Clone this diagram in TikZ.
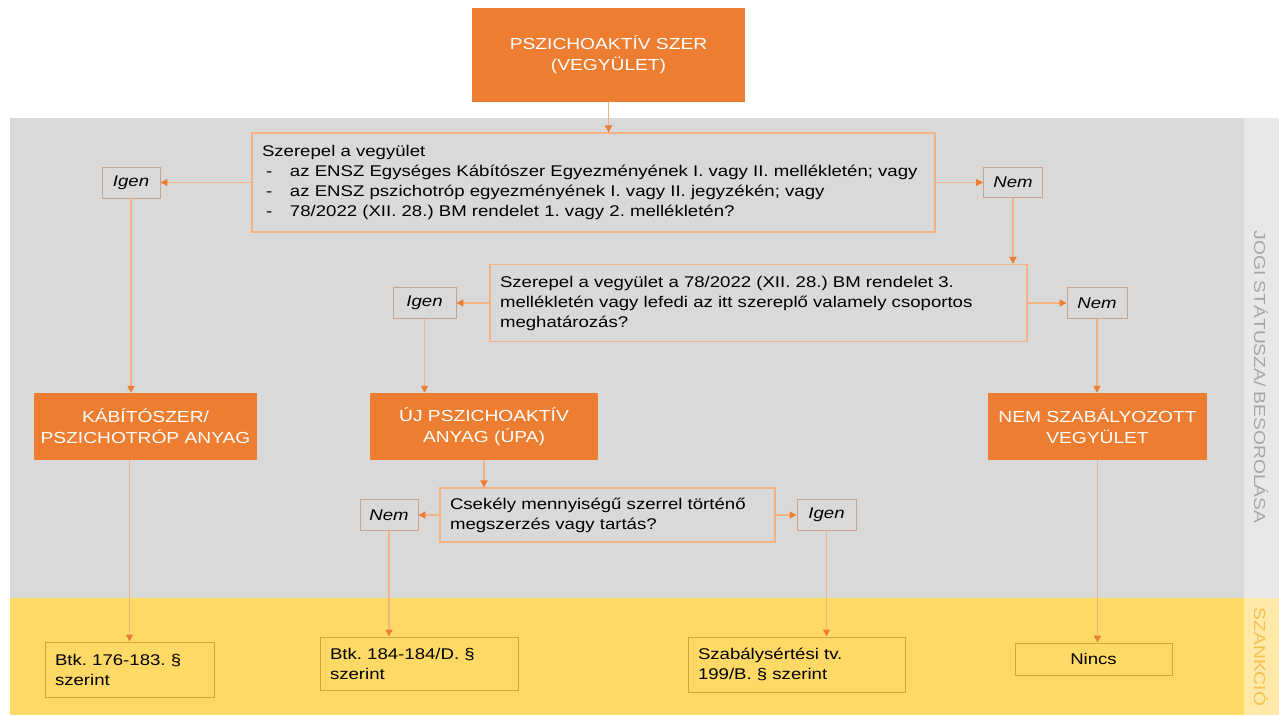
\documentclass[tikz,border=0pt]{standalone}
\usepackage{fontspec}
\setmainfont{Liberation Sans}[FakeStretch=1.2]
\usetikzlibrary{arrows.meta}

\definecolor{boxorange}{HTML}{ED7D31}
\definecolor{lineorange}{HTML}{F4B183}
\definecolor{bandgray}{HTML}{D9D9D9}
\definecolor{stripgray}{HTML}{E8E8E8}
\definecolor{bandyellow}{HTML}{FFD966}
\definecolor{stripyellow}{HTML}{FFE9A8}
\definecolor{labelgray}{HTML}{A6A6A6}
\definecolor{labelyellow}{HTML}{F2C14E}
\definecolor{tagborder}{HTML}{C4A48C}
\definecolor{sankborder}{HTML}{D6A23C}

\newcommand{\qfont}{\fontsize{15.5}{20}\selectfont}
\newcommand{\dashitem}{\hspace*{4pt}\makebox[24pt][l]{-}}
\frenchspacing

\begin{document}
\begin{tikzpicture}[x=1pt, y=-1pt,
  category/.style={fill=boxorange, text=white, align=center, inner sep=0pt,
    font=\fontsize{16}{21}\selectfont},
  question/.style={draw=lineorange, line width=1.2pt, align=left, inner xsep=10pt,
    inner ysep=0pt, font=\qfont},
  answer/.style={draw=tagborder, line width=0.9pt, inner sep=0pt,
    font=\qfont\itshape},
  sanction/.style={draw=sankborder, line width=0.9pt, align=left, inner xsep=10pt,
    inner ysep=0pt, font=\qfont},
  conn/.style={every edge/.style={draw=lineorange, line width=1.6pt,
    -{Triangle[length=7pt,width=7pt,color=boxorange]}}}]

  % bands
  \useasboundingbox (0,0) rectangle (1279,715);
  \fill[bandgray] (10,118) rectangle (1244,598);
  \fill[stripgray] (1244,118) rectangle (1279,598);
  \fill[bandyellow] (10,598) rectangle (1244,715);
  \fill[stripyellow] (1244,598) rectangle (1279,715);
  \node[rotate=-90, text=labelgray, font=\fontsize{16}{18}\selectfont] (jogi) at (1261,377) {JOGI STÁTUSZA/ BESOROLÁSA};
  \node[rotate=-90, text=labelyellow, font=\fontsize{16}{18}\selectfont] (szank) at (1261,657) {SZANKCIÓ};

  % boxes
  \node[category, minimum width=273pt, minimum height=94pt] (szer) at (608.5,55) {PSZICHOAKTÍV SZER\\(VEGYÜLET)};
  \node[question, text width=663pt, minimum height=99pt] (q1) at (593.5,182.5) {Szerepel a vegyület\\
    \dashitem az ENSZ Egységes Kábítószer Egyezményének I. vagy II. mellékletén; vagy\\
    \dashitem az ENSZ pszichotróp egyezményének I. vagy II. jegyzékén; vagy\\
    \dashitem 78/2022 (XII. 28.) BM rendelet 1. vagy 2. mellékletén?};
  \node[answer, minimum width=58pt, minimum height=31pt] (igen1) at (131,182.5) {Igen};
  \node[answer, minimum width=59pt, minimum height=30pt] (nem1) at (1013,182.5) {Nem};

  \node[question, text width=517pt, minimum height=77pt] (q2) at (758.5,303) {Szerepel a vegyület a 78/2022 (XII. 28.) BM rendelet 3.\\
    mellékletén vagy lefedi az itt szereplő valamely csoportos\\
    meghatározás?};
  \node[answer, minimum width=63pt, minimum height=31pt] (igen2) at (424.5,303) {Igen};
  \node[answer, minimum width=60pt, minimum height=31pt] (nem2) at (1097,303) {Nem};

  \node[category, minimum width=223pt, minimum height=67pt] (kab) at (145.5,426.5) {KÁBÍTÓSZER/\\PSZICHOTRÓP ANYAG};
  \node[category, minimum width=228pt, minimum height=67pt] (upa) at (484,426.5) {ÚJ PSZICHOAKTÍV\\ANYAG (ÚPA)};
  \node[category, minimum width=219pt, minimum height=67pt] (nemszab) at (1097.5,426.5) {NEM SZABÁLYOZOTT\\VEGYÜLET};

  \node[question, text width=315pt, minimum height=54pt] (q3) at (607.5,515) {Csekély mennyiségű szerrel történő\\megszerzés vagy tartás?};
  \node[answer, minimum width=58pt, minimum height=31pt] (nem3) at (389,515) {Nem};
  \node[answer, minimum width=59pt, minimum height=31pt] (igen3) at (826.5,515) {Igen};

  \node[sanction, text width=149pt, minimum height=55pt] (btka) at (129.5,669.5) {Btk. 176-183. §\\szerint};
  \node[sanction, text width=178pt, minimum height=53pt] (btkb) at (419,663.5) {Btk. 184-184/D. §\\szerint};
  \node[sanction, text width=197pt, minimum height=55pt] (szabs) at (796.5,664.5) {Szabálysértési tv.\\199/B. § szerint};
  \node[sanction, align=center, minimum width=157pt, minimum height=32pt] (nincs) at (1093.5,659) {Nincs};

  % connectors
  \path[conn]
    (szer) edge (szer |- q1.north)
    (q1) edge (igen1)
    (q1) edge (nem1)
    (nem1) edge (nem1 |- q2.north)
    (q2) edge (igen2)
    (q2) edge (nem2)
    (igen1) edge (igen1 |- kab.north)
    (igen2) edge (igen2 |- upa.north)
    (nem2) edge (nem2 |- nemszab.north)
    (upa) edge (upa |- q3.north)
    (q3) edge (nem3)
    (q3) edge (igen3)
    (kab.south -| btka) edge (btka)
    (nem3) edge (nem3 |- btkb.north)
    (igen3) edge (igen3 |- szabs.north)
    (nemszab) edge (nemszab |- nincs.north);
\end{tikzpicture}
\end{document}
